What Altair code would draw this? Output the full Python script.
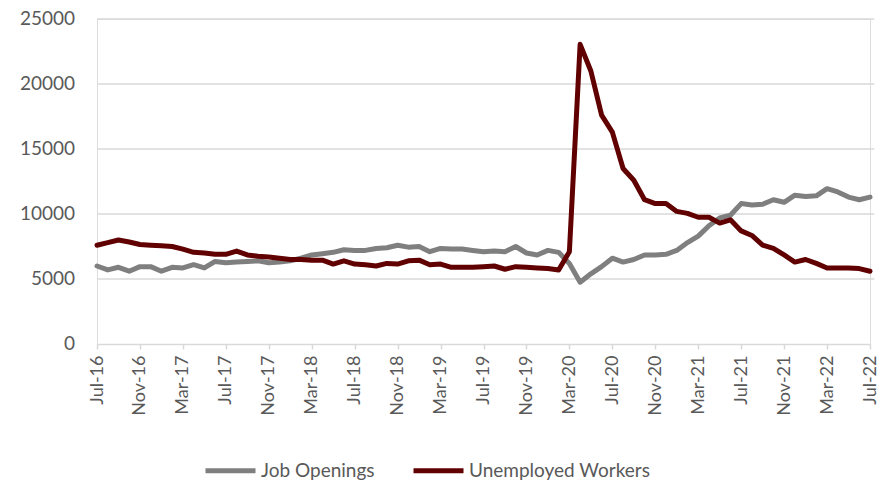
import json
import altair as alt
import pandas as pd

months = []
mnames = ["Jan", "Feb", "Mar", "Apr", "May", "Jun", "Jul", "Aug", "Sep", "Oct", "Nov", "Dec"]
for y in range(16, 23):
    for i, m in enumerate(mnames):
        if (y == 16 and i < 6) or (y == 22 and i > 6):
            continue
        months.append(f"{m}-{y}")

job_openings = [
    6.0, 5.7, 5.9, 5.6, 5.95, 5.95,           # Jul-16 .. Dec-16
    5.6, 5.9, 5.85, 6.1, 5.85, 6.35, 6.25, 6.3, 6.35, 6.4, 6.25, 6.3,   # 2017
    6.4, 6.6, 6.85, 6.95, 7.05, 7.25, 7.2, 7.2, 7.35, 7.4, 7.6, 7.45,   # 2018
    7.5, 7.1, 7.35, 7.3, 7.3, 7.2, 7.1, 7.15, 7.1, 7.5, 7.0, 6.85,      # 2019
    7.2, 7.05, 6.2, 4.75, 5.4, 5.95, 6.6, 6.3, 6.5, 6.85, 6.85, 6.9,    # 2020
    7.2, 7.8, 8.3, 9.1, 9.7, 9.9, 10.8, 10.7, 10.75, 11.1, 10.9, 11.45, # 2021
    11.35, 11.4, 11.95, 11.7, 11.3, 11.1, 11.3,                         # 2022
]
unemployed = [
    7.6, 7.8, 8.0, 7.85, 7.65, 7.6,
    7.55, 7.5, 7.3, 7.05, 7.0, 6.9, 6.9, 7.15, 6.85, 6.75, 6.7, 6.6,
    6.5, 6.5, 6.45, 6.45, 6.15, 6.4, 6.15, 6.1, 6.0, 6.2, 6.15, 6.4,
    6.45, 6.1, 6.15, 5.9, 5.9, 5.9, 5.95, 6.0, 5.75, 5.95, 5.9, 5.85,
    5.8, 5.7, 7.1, 23.05, 21.0, 17.6, 16.3, 13.5, 12.6, 11.1, 10.8, 10.8,
    10.2, 10.05, 9.75, 9.75, 9.3, 9.55, 8.7, 8.35, 7.6, 7.35, 6.85, 6.3,
    6.5, 6.2, 5.85, 5.85, 5.85, 5.8, 5.6,
]
series_names = ["Job Openings", "Unemployed Workers"]
colors = ["#7f7f7f", "#600000"]
y_ticks = [0, 5000, 10000, 15000, 20000, 25000]

rows = []
for i, m in enumerate(months):
    rows.append({"idx": i, "month": m, "value": job_openings[i] * 1000, "series": series_names[0]})
    rows.append({"idx": i, "month": m, "value": unemployed[i] * 1000, "series": series_names[1]})
df = pd.DataFrame(rows)
grid_df = pd.DataFrame({"value": y_ticks[1:], "x0": [0.0] * 5, "x1": [72.4] * 5})
lab_df = pd.DataFrame({"value": y_ticks, "label": [str(v) for v in y_ticks]})

label_values = list(range(0, len(months), 4))
label_expr = json.dumps(months) + "[datum.value]"

FONT = "Lato"
W, H = 773, 325

yscale = alt.Scale(domain=[0, 25000], nice=False)
xscale = alt.Scale(domain=[0, len(months) - 1], nice=False, zero=False)
xaxis = alt.Axis(values=label_values, labelExpr=label_expr, title=None,
                 grid=False, labelAngle=-90, labelAlign="right",
                 labelBaseline="middle",
                 labelPadding=6, tickSize=5, tickColor="#d9d9d9", tickWidth=1.5,
                 domainColor="#d9d9d9", domainWidth=1.5,
                 labelFont=FONT, labelFontSize=18, labelColor="#595959")

grid = alt.Chart(grid_df).mark_rule(color="#d9d9d9", strokeWidth=1.5).encode(
    y=alt.Y("value:Q", scale=yscale, axis=None),
    x=alt.X("x0:Q", scale=xscale, axis=xaxis),
    x2="x1:Q",
)

ylabels = alt.Chart(lab_df).mark_text(
    align="right", baseline="middle", font=FONT, fontSize=19, color="#595959"
).encode(
    y=alt.Y("value:Q", scale=yscale, axis=None),
    x=alt.value(-22),
    text="label:N",
)

lines = alt.Chart(df).mark_line(strokeWidth=5, strokeCap="round", strokeJoin="round").encode(
    x=alt.X("idx:Q", scale=xscale, axis=xaxis),
    y=alt.Y("value:Q", scale=yscale, axis=None),
    color=alt.Color("series:N",
                    scale=alt.Scale(domain=series_names, range=colors),
                    legend=alt.Legend(title=None, orient="none", legendX=106, legendY=424,
                                      direction="horizontal", symbolType="stroke",
                                      symbolSize=2500, symbolStrokeWidth=5, labelLimit=400,
                                      labelFont=FONT, labelFontSize=19, labelColor="#595959",
                                      labelOffset=3, columnPadding=28)),
    detail="series:N",
)

chart = alt.layer(grid, ylabels, lines).properties(
    width=W, height=H,
    padding={"left": 97, "top": 19, "right": 9, "bottom": 141},
    autosize=alt.AutoSizeParams(type="none"),
).configure_view(strokeWidth=0).configure(background="white")

chart.save("out.html", embed_options={"renderer": "svg", "actions": False})
